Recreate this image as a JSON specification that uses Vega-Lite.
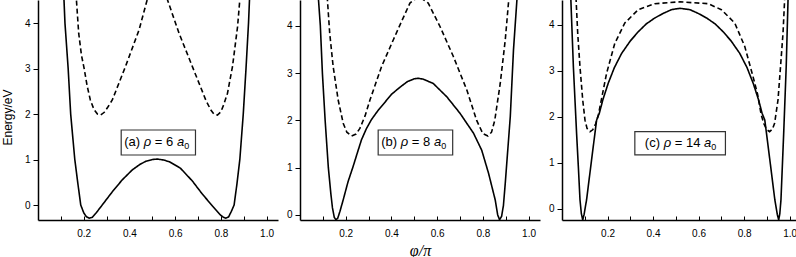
{
  "$schema": "https://vega.github.io/schema/vega-lite/v6.json",
  "padding": {"left": 1, "top": 0, "right": 0, "bottom": 0},
  "background": "white",
  "spacing": 8,
  "datasets": {
    "curves": [
      {"p":"a","s":"solid","x":0.108,"y":5.2},{"p":"a","s":"solid","x":0.118,"y":4.0},{"p":"a","s":"solid","x":0.132,"y":3.0},{"p":"a","s":"solid","x":0.143,"y":2.0},{"p":"a","s":"solid","x":0.161,"y":1.0},{"p":"a","s":"solid","x":0.175,"y":0.45},{"p":"a","s":"solid","x":0.187,"y":0.0},{"p":"a","s":"solid","x":0.2,"y":-0.17},{"p":"a","s":"solid","x":0.212,"y":-0.26},{"p":"a","s":"solid","x":0.225,"y":-0.29},{"p":"a","s":"solid","x":0.238,"y":-0.27},{"p":"a","s":"solid","x":0.255,"y":-0.17},{"p":"a","s":"solid","x":0.281,"y":0.0},{"p":"a","s":"solid","x":0.325,"y":0.29},{"p":"a","s":"solid","x":0.368,"y":0.55},{"p":"a","s":"solid","x":0.412,"y":0.77},{"p":"a","s":"solid","x":0.445,"y":0.89},{"p":"a","s":"solid","x":0.471,"y":0.96},{"p":"a","s":"solid","x":0.5,"y":1.0},{"p":"a","s":"solid","x":0.522,"y":1.01},{"p":"a","s":"solid","x":0.55,"y":0.99},{"p":"a","s":"solid","x":0.575,"y":0.95},{"p":"a","s":"solid","x":0.623,"y":0.81},{"p":"a","s":"solid","x":0.675,"y":0.53},{"p":"a","s":"solid","x":0.719,"y":0.24},{"p":"a","s":"solid","x":0.763,"y":-0.02},{"p":"a","s":"solid","x":0.798,"y":-0.22},{"p":"a","s":"solid","x":0.811,"y":-0.27},{"p":"a","s":"solid","x":0.822,"y":-0.29},{"p":"a","s":"solid","x":0.834,"y":-0.26},{"p":"a","s":"solid","x":0.846,"y":-0.14},{"p":"a","s":"solid","x":0.858,"y":0.0},{"p":"a","s":"solid","x":0.87,"y":0.45},{"p":"a","s":"solid","x":0.883,"y":1.0},{"p":"a","s":"solid","x":0.898,"y":2.0},{"p":"a","s":"solid","x":0.91,"y":3.0},{"p":"a","s":"solid","x":0.921,"y":4.0},{"p":"a","s":"solid","x":0.931,"y":5.2},
      {"p":"a","s":"dashed","x":0.162,"y":5.2},{"p":"a","s":"dashed","x":0.168,"y":4.52},{"p":"a","s":"dashed","x":0.178,"y":3.78},{"p":"a","s":"dashed","x":0.19,"y":3.3},{"p":"a","s":"dashed","x":0.202,"y":3.0},{"p":"a","s":"dashed","x":0.215,"y":2.62},{"p":"a","s":"dashed","x":0.229,"y":2.31},{"p":"a","s":"dashed","x":0.245,"y":2.1},{"p":"a","s":"dashed","x":0.26,"y":2.0},{"p":"a","s":"dashed","x":0.274,"y":1.98},{"p":"a","s":"dashed","x":0.29,"y":2.04},{"p":"a","s":"dashed","x":0.305,"y":2.15},{"p":"a","s":"dashed","x":0.325,"y":2.31},{"p":"a","s":"dashed","x":0.383,"y":3.05},{"p":"a","s":"dashed","x":0.442,"y":3.85},{"p":"a","s":"dashed","x":0.478,"y":4.52},{"p":"a","s":"dashed","x":0.52,"y":4.85},{"p":"a","s":"dashed","x":0.566,"y":4.52},{"p":"a","s":"dashed","x":0.617,"y":3.78},{"p":"a","s":"dashed","x":0.675,"y":3.05},{"p":"a","s":"dashed","x":0.734,"y":2.31},{"p":"a","s":"dashed","x":0.755,"y":2.1},{"p":"a","s":"dashed","x":0.77,"y":2.0},{"p":"a","s":"dashed","x":0.785,"y":1.98},{"p":"a","s":"dashed","x":0.8,"y":2.05},{"p":"a","s":"dashed","x":0.812,"y":2.2},{"p":"a","s":"dashed","x":0.829,"y":2.46},{"p":"a","s":"dashed","x":0.851,"y":3.05},{"p":"a","s":"dashed","x":0.873,"y":3.92},{"p":"a","s":"dashed","x":0.883,"y":4.52},{"p":"a","s":"dashed","x":0.89,"y":5.2},
      {"p":"b","s":"solid","x":0.072,"y":5.3},{"p":"b","s":"solid","x":0.081,"y":4.545},{"p":"b","s":"solid","x":0.089,"y":4.0},{"p":"b","s":"solid","x":0.098,"y":3.0},{"p":"b","s":"solid","x":0.11,"y":2.0},{"p":"b","s":"solid","x":0.124,"y":1.0},{"p":"b","s":"solid","x":0.135,"y":0.45},{"p":"b","s":"solid","x":0.142,"y":0.15},{"p":"b","s":"solid","x":0.15,"y":-0.05},{"p":"b","s":"solid","x":0.157,"y":-0.1},{"p":"b","s":"solid","x":0.165,"y":-0.07},{"p":"b","s":"solid","x":0.175,"y":0.08},{"p":"b","s":"solid","x":0.189,"y":0.32},{"p":"b","s":"solid","x":0.21,"y":0.7},{"p":"b","s":"solid","x":0.232,"y":1.02},{"p":"b","s":"solid","x":0.25,"y":1.3},{"p":"b","s":"solid","x":0.269,"y":1.59},{"p":"b","s":"solid","x":0.29,"y":1.82},{"p":"b","s":"solid","x":0.313,"y":2.02},{"p":"b","s":"solid","x":0.34,"y":2.2},{"p":"b","s":"solid","x":0.371,"y":2.38},{"p":"b","s":"solid","x":0.4,"y":2.55},{"p":"b","s":"solid","x":0.437,"y":2.7},{"p":"b","s":"solid","x":0.47,"y":2.82},{"p":"b","s":"solid","x":0.5,"y":2.88},{"p":"b","s":"solid","x":0.518,"y":2.89},{"p":"b","s":"solid","x":0.54,"y":2.87},{"p":"b","s":"solid","x":0.583,"y":2.78},{"p":"b","s":"solid","x":0.642,"y":2.5},{"p":"b","s":"solid","x":0.7,"y":2.15},{"p":"b","s":"solid","x":0.759,"y":1.73},{"p":"b","s":"solid","x":0.795,"y":1.37},{"p":"b","s":"solid","x":0.825,"y":0.88},{"p":"b","s":"solid","x":0.854,"y":0.32},{"p":"b","s":"solid","x":0.865,"y":0.0},{"p":"b","s":"solid","x":0.873,"y":-0.1},{"p":"b","s":"solid","x":0.882,"y":-0.03},{"p":"b","s":"solid","x":0.89,"y":0.2},{"p":"b","s":"solid","x":0.898,"y":0.67},{"p":"b","s":"solid","x":0.92,"y":2.08},{"p":"b","s":"solid","x":0.934,"y":3.49},{"p":"b","s":"solid","x":0.949,"y":4.545},{"p":"b","s":"solid","x":0.956,"y":5.3},
      {"p":"b","s":"dashed","x":0.113,"y":5.3},{"p":"b","s":"dashed","x":0.12,"y":4.545},{"p":"b","s":"dashed","x":0.13,"y":3.84},{"p":"b","s":"dashed","x":0.145,"y":3.14},{"p":"b","s":"dashed","x":0.167,"y":2.43},{"p":"b","s":"dashed","x":0.189,"y":1.94},{"p":"b","s":"dashed","x":0.205,"y":1.75},{"p":"b","s":"dashed","x":0.225,"y":1.67},{"p":"b","s":"dashed","x":0.245,"y":1.71},{"p":"b","s":"dashed","x":0.262,"y":1.83},{"p":"b","s":"dashed","x":0.285,"y":2.1},{"p":"b","s":"dashed","x":0.306,"y":2.43},{"p":"b","s":"dashed","x":0.357,"y":3.14},{"p":"b","s":"dashed","x":0.408,"y":3.7},{"p":"b","s":"dashed","x":0.445,"y":4.1},{"p":"b","s":"dashed","x":0.481,"y":4.48},{"p":"b","s":"dashed","x":0.52,"y":4.62},{"p":"b","s":"dashed","x":0.561,"y":4.48},{"p":"b","s":"dashed","x":0.613,"y":3.98},{"p":"b","s":"dashed","x":0.671,"y":3.35},{"p":"b","s":"dashed","x":0.73,"y":2.64},{"p":"b","s":"dashed","x":0.773,"y":2.0},{"p":"b","s":"dashed","x":0.8,"y":1.72},{"p":"b","s":"dashed","x":0.822,"y":1.67},{"p":"b","s":"dashed","x":0.838,"y":1.75},{"p":"b","s":"dashed","x":0.852,"y":2.0},{"p":"b","s":"dashed","x":0.876,"y":2.78},{"p":"b","s":"dashed","x":0.898,"y":3.7},{"p":"b","s":"dashed","x":0.912,"y":4.48},{"p":"b","s":"dashed","x":0.92,"y":5.3},
      {"p":"c","s":"solid","x":0.034,"y":5.3},{"p":"c","s":"solid","x":0.039,"y":4.54},{"p":"c","s":"solid","x":0.05,"y":3.09},{"p":"c","s":"solid","x":0.064,"y":1.65},{"p":"c","s":"solid","x":0.072,"y":0.9},{"p":"c","s":"solid","x":0.079,"y":0.2},{"p":"c","s":"solid","x":0.085,"y":-0.1},{"p":"c","s":"solid","x":0.091,"y":-0.24},{"p":"c","s":"solid","x":0.097,"y":-0.12},{"p":"c","s":"solid","x":0.108,"y":0.2},{"p":"c","s":"solid","x":0.13,"y":1.07},{"p":"c","s":"solid","x":0.152,"y":1.93},{"p":"c","s":"solid","x":0.164,"y":2.08},{"p":"c","s":"solid","x":0.18,"y":2.38},{"p":"c","s":"solid","x":0.203,"y":2.73},{"p":"c","s":"solid","x":0.23,"y":3.07},{"p":"c","s":"solid","x":0.262,"y":3.38},{"p":"c","s":"solid","x":0.3,"y":3.65},{"p":"c","s":"solid","x":0.335,"y":3.85},{"p":"c","s":"solid","x":0.37,"y":4.02},{"p":"c","s":"solid","x":0.408,"y":4.15},{"p":"c","s":"solid","x":0.445,"y":4.25},{"p":"c","s":"solid","x":0.481,"y":4.33},{"p":"c","s":"solid","x":0.518,"y":4.36},{"p":"c","s":"solid","x":0.562,"y":4.33},{"p":"c","s":"solid","x":0.598,"y":4.25},{"p":"c","s":"solid","x":0.635,"y":4.15},{"p":"c","s":"solid","x":0.673,"y":4.02},{"p":"c","s":"solid","x":0.708,"y":3.85},{"p":"c","s":"solid","x":0.743,"y":3.65},{"p":"c","s":"solid","x":0.781,"y":3.38},{"p":"c","s":"solid","x":0.813,"y":3.07},{"p":"c","s":"solid","x":0.84,"y":2.73},{"p":"c","s":"solid","x":0.863,"y":2.38},{"p":"c","s":"solid","x":0.879,"y":2.08},{"p":"c","s":"solid","x":0.891,"y":1.93},{"p":"c","s":"solid","x":0.913,"y":1.07},{"p":"c","s":"solid","x":0.935,"y":0.2},{"p":"c","s":"solid","x":0.946,"y":-0.12},{"p":"c","s":"solid","x":0.952,"y":-0.24},{"p":"c","s":"solid","x":0.957,"y":-0.1},{"p":"c","s":"solid","x":0.962,"y":0.2},{"p":"c","s":"solid","x":0.974,"y":1.65},{"p":"c","s":"solid","x":0.985,"y":3.09},{"p":"c","s":"solid","x":0.993,"y":4.54},{"p":"c","s":"solid","x":0.998,"y":5.3},
      {"p":"c","s":"dashed","x":0.055,"y":5.3},{"p":"c","s":"dashed","x":0.062,"y":4.54},{"p":"c","s":"dashed","x":0.069,"y":3.82},{"p":"c","s":"dashed","x":0.079,"y":3.09},{"p":"c","s":"dashed","x":0.091,"y":2.37},{"p":"c","s":"dashed","x":0.101,"y":1.93},{"p":"c","s":"dashed","x":0.11,"y":1.75},{"p":"c","s":"dashed","x":0.123,"y":1.68},{"p":"c","s":"dashed","x":0.135,"y":1.72},{"p":"c","s":"dashed","x":0.148,"y":1.85},{"p":"c","s":"dashed","x":0.16,"y":2.05},{"p":"c","s":"dashed","x":0.178,"y":2.5},{"p":"c","s":"dashed","x":0.196,"y":2.95},{"p":"c","s":"dashed","x":0.232,"y":3.6},{"p":"c","s":"dashed","x":0.276,"y":4.04},{"p":"c","s":"dashed","x":0.335,"y":4.33},{"p":"c","s":"dashed","x":0.408,"y":4.46},{"p":"c","s":"dashed","x":0.518,"y":4.5},{"p":"c","s":"dashed","x":0.642,"y":4.46},{"p":"c","s":"dashed","x":0.7,"y":4.33},{"p":"c","s":"dashed","x":0.759,"y":4.04},{"p":"c","s":"dashed","x":0.803,"y":3.53},{"p":"c","s":"dashed","x":0.839,"y":2.88},{"p":"c","s":"dashed","x":0.859,"y":2.5},{"p":"c","s":"dashed","x":0.875,"y":2.05},{"p":"c","s":"dashed","x":0.887,"y":1.85},{"p":"c","s":"dashed","x":0.9,"y":1.72},{"p":"c","s":"dashed","x":0.912,"y":1.68},{"p":"c","s":"dashed","x":0.924,"y":1.73},{"p":"c","s":"dashed","x":0.934,"y":1.86},{"p":"c","s":"dashed","x":0.949,"y":2.37},{"p":"c","s":"dashed","x":0.96,"y":3.09},{"p":"c","s":"dashed","x":0.971,"y":3.82},{"p":"c","s":"dashed","x":0.978,"y":4.54},{"p":"c","s":"dashed","x":0.983,"y":5.3}
    ],
    "boxes": [
      {"p":"a","x1":0.364,"x2":0.689,"y1":1.10,"y2":1.65},
      {"p":"b","x1":0.342,"x2":0.668,"y1":1.268,"y2":1.797},
      {"p":"c","x1":0.32,"x2":0.718,"y1":1.174,"y2":1.68}
    ],
    "labels": [
      {"p":"a","k":"r","t":"(a)","x":0.377,"y":1.377},
      {"p":"a","k":"i","t":"ρ","x":0.4625,"y":1.377},
      {"p":"a","k":"r","t":"= 6","x":0.5112,"y":1.377},
      {"p":"a","k":"i","t":"a","x":0.6079,"y":1.377},
      {"p":"a","k":"s","t":"0","x":0.6397,"y":1.377},
      {"p":"b","k":"r","t":"(b)","x":0.355,"y":1.533},
      {"p":"b","k":"i","t":"ρ","x":0.4405,"y":1.533},
      {"p":"b","k":"r","t":"= 8","x":0.4892,"y":1.533},
      {"p":"b","k":"i","t":"a","x":0.5859,"y":1.533},
      {"p":"b","k":"s","t":"0","x":0.6177,"y":1.533},
      {"p":"c","k":"r","t":"(c)","x":0.364,"y":1.428},
      {"p":"c","k":"i","t":"ρ","x":0.4465,"y":1.428},
      {"p":"c","k":"r","t":"= 14","x":0.4951,"y":1.428},
      {"p":"c","k":"i","t":"a","x":0.6235,"y":1.428},
      {"p":"c","k":"s","t":"0","x":0.6552,"y":1.428}
    ]
  },
  "hconcat": [
    {
      "width": 240, "height": 220,
      "resolve": {"axis": {"x": "independent"}},
      "layer": [
        {"data": {"name": "curves"}, "transform": [{"filter": "datum.p == 'a'"}],
         "mark": {"type": "line", "clip": true, "color": "black", "strokeWidth": 1.6},
         "encoding": {
           "x": {"field": "x", "type": "quantitative", "scale": {"domain": [0, 1.05], "nice": false, "zero": false},
                 "axis": {"orient": "bottom", "title": null, "values": [0.2,0.4,0.6,0.8,1.0], "format": ".1f", "tickSize": 0}},
           "y": {"field": "y", "type": "quantitative", "scale": {"domain": [-0.33, 4.51], "nice": false, "zero": false},
                 "axis": {"title": "Energy/eV", "titleY": 117, "values": [0,0.5,1,1.5,2,2.5,3,3.5,4], "labelExpr": "abs(datum.value - round(datum.value)) < 0.01 ? format(datum.value, 'd') : ''"}},
           "strokeDash": {"field": "s", "type": "nominal", "scale": {"domain": ["solid","dashed"], "range": [[1,0],[5,3]]}, "legend": null}
         }},
        {"data": {"name": "boxes"}, "transform": [{"filter": "datum.p == 'a'"}],
         "mark": {"type": "rect", "fill": "white", "stroke": "#333", "strokeWidth": 1.2},
         "encoding": {"x": {"field": "x1", "type": "quantitative", "axis": {"orient": "top", "offset": -220, "title": null, "labels": false, "domain": false, "tickSize": 4, "values": [0.1,0.2,0.3,0.4,0.5,0.6,0.7,0.8,0.9,1.0]}}, "x2": {"field": "x2"}, "y": {"field": "y1", "type": "quantitative"}, "y2": {"field": "y2"}}},
        {"data": {"name": "labels"}, "transform": [{"filter": "datum.p == 'a' && datum.k == 'r'"}],
         "mark": {"type": "text", "align": "left", "baseline": "middle", "font": "Liberation Sans", "fontSize": 13, "color": "black"},
         "encoding": {"x": {"field": "x", "type": "quantitative", "axis": null}, "y": {"field": "y", "type": "quantitative"}, "text": {"field": "t"}}},
        {"data": {"name": "labels"}, "transform": [{"filter": "datum.p == 'a' && datum.k == 'i'"}],
         "mark": {"type": "text", "align": "left", "baseline": "middle", "font": "Liberation Sans", "fontSize": 13, "fontStyle": "italic", "color": "black"},
         "encoding": {"x": {"field": "x", "type": "quantitative", "axis": null}, "y": {"field": "y", "type": "quantitative"}, "text": {"field": "t"}}},
        {"data": {"name": "labels"}, "transform": [{"filter": "datum.p == 'a' && datum.k == 's'"}],
         "mark": {"type": "text", "align": "left", "baseline": "middle", "font": "Liberation Sans", "fontSize": 9, "dy": 4, "color": "black"},
         "encoding": {"x": {"field": "x", "type": "quantitative", "axis": null}, "y": {"field": "y", "type": "quantitative"}, "text": {"field": "t"}}}
      ]
    },
    {
      "width": 240, "height": 220,
      "resolve": {"axis": {"x": "independent"}},
      "layer": [
        {"data": {"name": "curves"}, "transform": [{"filter": "datum.p == 'b'"}],
         "mark": {"type": "line", "clip": true, "color": "black", "strokeWidth": 1.6},
         "encoding": {
           "x": {"field": "x", "type": "quantitative", "scale": {"domain": [0, 1.05], "nice": false, "zero": false},
                 "axis": {"orient": "bottom", "title": "φ/π", "values": [0.2,0.4,0.6,0.8,1.0], "format": ".1f", "tickSize": 0}},
           "y": {"field": "y", "type": "quantitative", "scale": {"domain": [-0.106, 4.545], "nice": false, "zero": false},
                 "axis": {"title": null, "values": [0,0.5,1,1.5,2,2.5,3,3.5,4], "labelExpr": "abs(datum.value - round(datum.value)) < 0.01 ? format(datum.value, 'd') : ''"}},
           "strokeDash": {"field": "s", "type": "nominal", "scale": {"domain": ["solid","dashed"], "range": [[1,0],[5,3]]}, "legend": null}
         }},
        {"data": {"name": "boxes"}, "transform": [{"filter": "datum.p == 'b'"}],
         "mark": {"type": "rect", "fill": "white", "stroke": "#333", "strokeWidth": 1.2},
         "encoding": {"x": {"field": "x1", "type": "quantitative", "axis": {"orient": "top", "offset": -220, "title": null, "labels": false, "domain": false, "tickSize": 4, "values": [0.1,0.2,0.3,0.4,0.5,0.6,0.7,0.8,0.9,1.0]}}, "x2": {"field": "x2"}, "y": {"field": "y1", "type": "quantitative"}, "y2": {"field": "y2"}}},
        {"data": {"name": "labels"}, "transform": [{"filter": "datum.p == 'b' && datum.k == 'r'"}],
         "mark": {"type": "text", "align": "left", "baseline": "middle", "font": "Liberation Sans", "fontSize": 13, "color": "black"},
         "encoding": {"x": {"field": "x", "type": "quantitative", "axis": null}, "y": {"field": "y", "type": "quantitative"}, "text": {"field": "t"}}},
        {"data": {"name": "labels"}, "transform": [{"filter": "datum.p == 'b' && datum.k == 'i'"}],
         "mark": {"type": "text", "align": "left", "baseline": "middle", "font": "Liberation Sans", "fontSize": 13, "fontStyle": "italic", "color": "black"},
         "encoding": {"x": {"field": "x", "type": "quantitative", "axis": null}, "y": {"field": "y", "type": "quantitative"}, "text": {"field": "t"}}},
        {"data": {"name": "labels"}, "transform": [{"filter": "datum.p == 'b' && datum.k == 's'"}],
         "mark": {"type": "text", "align": "left", "baseline": "middle", "font": "Liberation Sans", "fontSize": 9, "dy": 4, "color": "black"},
         "encoding": {"x": {"field": "x", "type": "quantitative", "axis": null}, "y": {"field": "y", "type": "quantitative"}, "text": {"field": "t"}}}
      ]
    },
    {
      "width": 239, "height": 220,
      "resolve": {"axis": {"x": "independent"}},
      "layer": [
        {"data": {"name": "curves"}, "transform": [{"filter": "datum.p == 'c'"}],
         "mark": {"type": "line", "clip": true, "color": "black", "strokeWidth": 1.6},
         "encoding": {
           "x": {"field": "x", "type": "quantitative", "scale": {"domain": [0, 1.05], "nice": false, "zero": false},
                 "axis": {"orient": "bottom", "title": null, "values": [0.2,0.4,0.6,0.8,1.0], "format": ".1f", "tickSize": 0}},
           "y": {"field": "y", "type": "quantitative", "scale": {"domain": [-0.24, 4.54], "nice": false, "zero": false},
                 "axis": {"title": null, "values": [0,0.5,1,1.5,2,2.5,3,3.5,4], "labelExpr": "abs(datum.value - round(datum.value)) < 0.01 ? format(datum.value, 'd') : ''"}},
           "strokeDash": {"field": "s", "type": "nominal", "scale": {"domain": ["solid","dashed"], "range": [[1,0],[5,3]]}, "legend": null}
         }},
        {"data": {"name": "boxes"}, "transform": [{"filter": "datum.p == 'c'"}],
         "mark": {"type": "rect", "fill": "white", "stroke": "#333", "strokeWidth": 1.2},
         "encoding": {"x": {"field": "x1", "type": "quantitative", "axis": {"orient": "top", "offset": -220, "title": null, "labels": false, "domain": false, "tickSize": 4, "values": [0.1,0.2,0.3,0.4,0.5,0.6,0.7,0.8,0.9,1.0]}}, "x2": {"field": "x2"}, "y": {"field": "y1", "type": "quantitative"}, "y2": {"field": "y2"}}},
        {"data": {"name": "labels"}, "transform": [{"filter": "datum.p == 'c' && datum.k == 'r'"}],
         "mark": {"type": "text", "align": "left", "baseline": "middle", "font": "Liberation Sans", "fontSize": 13, "color": "black"},
         "encoding": {"x": {"field": "x", "type": "quantitative", "axis": null}, "y": {"field": "y", "type": "quantitative"}, "text": {"field": "t"}}},
        {"data": {"name": "labels"}, "transform": [{"filter": "datum.p == 'c' && datum.k == 'i'"}],
         "mark": {"type": "text", "align": "left", "baseline": "middle", "font": "Liberation Sans", "fontSize": 13, "fontStyle": "italic", "color": "black"},
         "encoding": {"x": {"field": "x", "type": "quantitative", "axis": null}, "y": {"field": "y", "type": "quantitative"}, "text": {"field": "t"}}},
        {"data": {"name": "labels"}, "transform": [{"filter": "datum.p == 'c' && datum.k == 's'"}],
         "mark": {"type": "text", "align": "left", "baseline": "middle", "font": "Liberation Sans", "fontSize": 9, "dy": 4, "color": "black"},
         "encoding": {"x": {"field": "x", "type": "quantitative", "axis": null}, "y": {"field": "y", "type": "quantitative"}, "text": {"field": "t"}}}
      ]
    }
  ],
  "config": {
    "view": {"stroke": null},
    "axis": {
      "grid": false,
      "domainColor": "black", "domainWidth": 1.5,
      "tickColor": "black", "tickWidth": 1, "tickSize": 5,
      "labelFont": "Liberation Sans", "labelFontSize": 10, "labelColor": "black", "labelPadding": 3,
      "labelOverlap": false, "labelFlush": false,
      "titleFont": "Liberation Sans", "titleFontSize": 12, "titleFontWeight": "normal", "titleColor": "black"
    },
    "axisY": {"titlePadding": 10},
    "axisX": {"titleFont": "Liberation Serif", "titleFontSize": 16, "titleFontStyle": "italic", "titlePadding": 4, "labelPadding": 8}
  }
}
